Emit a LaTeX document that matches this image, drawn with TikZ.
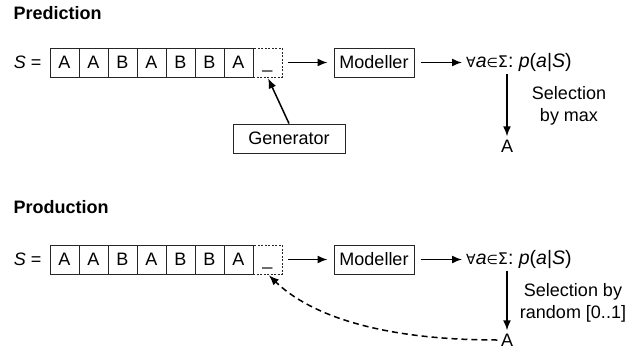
\documentclass[tikz,border=0pt]{standalone}
\usepackage{fontspec}
\setmainfont{Liberation Sans}
\newfontfamily\symfont{DejaVu Sans}
\usetikzlibrary{positioning}
\usetikzlibrary{arrows.meta}

\begin{document}
\begin{tikzpicture}[
        x = 1pt,
        y = -1pt,
        font = \fontsize{18}{21}\selectfont,
        cell/.style = {
            draw = black!85,
            line width = 1pt,
            minimum width = 29pt,
            minimum height = 29pt,
            text height = 12.6pt,
            text depth = 0pt,
            inner sep = 0pt,
            outer sep = 0pt
        },
        gapcell/.style = {cell, dash pattern = on 2pt off 1.5pt},
        box/.style = {
            draw = black!85,
            line width = 1pt,
            minimum height = 29pt,
            minimum width = #1,
            inner sep = 0pt
        },
        box/.default = 80pt,
        title/.style = {font = \fontsize{18}{21}\selectfont\bfseries, anchor = west},
        arr/.style = {line width = 1.5pt, -{Latex[length = 10pt, width = 8pt]}},
        feedback/.style = {arr, dash pattern = on 6pt off 4pt},
        sel/.style = {align = center, font = \fontsize{18}{22}\selectfont},
        formula/.style = {anchor = west, inner sep = 0pt, font = \fontsize{19.5}{22}\selectfont}
    ]
    \useasboundingbox (0,0) rectangle (637,351);

    % both rows
    \foreach \row/\y in {p/62.5, q/259.5} {
        \foreach \ch [count=\i] in {A,A,B,A,B,B,A}
            {\node[cell] (\row\i) at ({35.5+29*\i},\y) {\ch};}
        \node[gapcell, right = 0pt of \row7] (\row gap) {\_};
        \node[left = 5pt of \row1] (\row S) {\textit{S} =};
        \node[box] (\row mod) at (374,\y) {Modeller};
        \node[formula] (\row form) at (466,\y)
            {{\symfont\fontsize{14}{15}\selectfont ∀}\textit{a}{\symfont\fontsize{13}{15}\selectfont ∈}{\symfont\fontsize{16}{15}\selectfont Σ}: \textit{p}(\textit{a}|\textit{S})};
        \draw[arr, shorten <= 6pt, shorten >= 6pt] (\row gap) -- (\row mod);
        \draw[arr, shorten <= 6pt, shorten >= 4pt] (\row mod) -- (\row form);
    }

    % prediction
    \node[title] (ptitle) at (10,13.5) {Prediction};
    \node (pres) at (507,146) {A};
    \draw[arr, shorten <= 2pt] (pres |- pform.south) -- (pres.north);
    \node[sel] (psel) at (569,106) {Selection\\by max};
    \node[box = 112pt] (gen) at (289,138.5) {Generator};
    \draw[arr, shorten >= 1.5pt] (gen.north) -- (pgap.south);

    % production
    \node[title] (qtitle) at (10,207.5) {Production};
    \node (qres) at (507,340) {A};
    \draw[arr, shorten <= 2pt] (qres |- qform.south) -- (qres.north);
    \node[sel] (qsel) at (573,303) {Selection by\\random [0..1]};
    \draw[feedback, shorten >= 2pt] (qres.west) .. controls (380,340) and (310,315) .. (qgap.south);
\end{tikzpicture}
\end{document}
